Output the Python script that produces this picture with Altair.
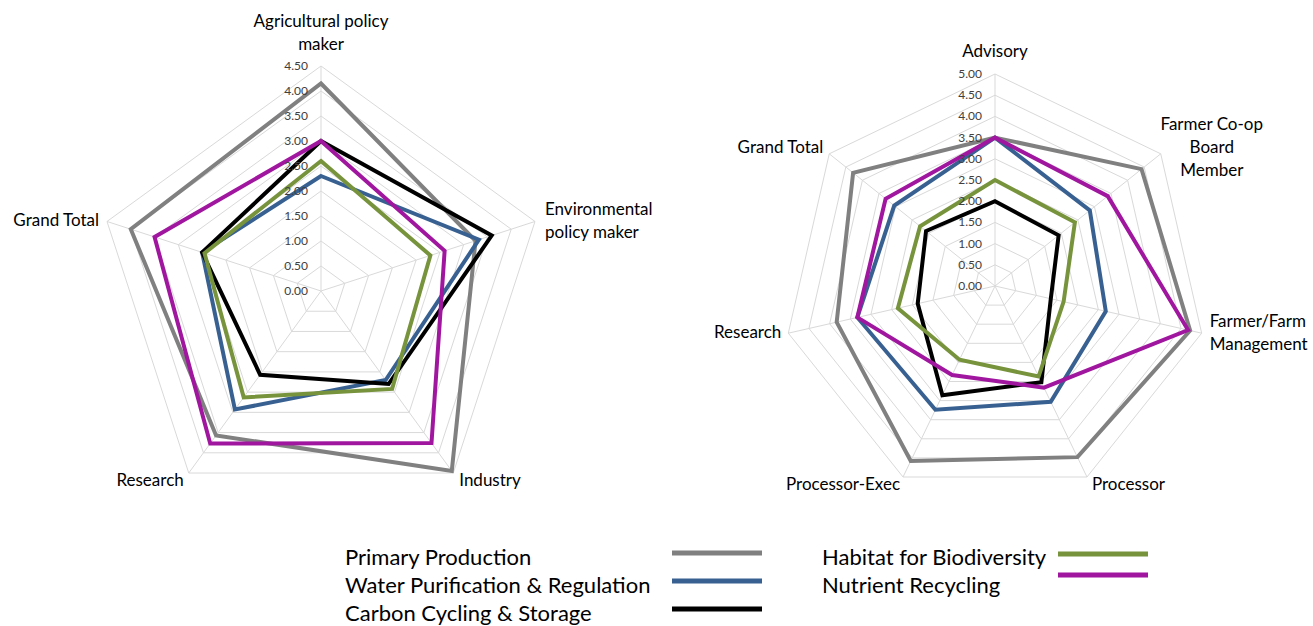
import altair as alt
import pandas as pd

FONT = "Lato"

SERIES = [
    "Primary Production",
    "Water Purification & Regulation",
    "Carbon Cycling & Storage",
    "Habitat for Biodiversity",
    "Nutrient Recycling",
]
COLORS = ["#808080", "#386192", "#000000", "#77933C", "#A0169F"]

# ---- left radar ----
LEFT_AXES = ["Agricultural policy\nmaker", "Environmental\npolicy maker", "Industry", "Research", "Grand Total"]
LEFT_TICKS = [0.0, 0.5, 1.0, 1.5, 2.0, 2.5, 3.0, 3.5, 4.0, 4.5]
LEFT_PRIMARY = [4.15, 3.25, 4.45, 3.57, 4.00]
LEFT_WATER = [2.30, 3.32, 2.20, 2.93, 2.50]
LEFT_CARBON = [3.00, 3.59, 2.30, 2.07, 2.50]
LEFT_HABITAT = [2.60, 2.30, 2.42, 2.63, 2.45]
LEFT_NUTRIENT = [3.00, 2.60, 3.76, 3.77, 3.50]

# ---- right radar ----
RIGHT_AXES = ["Advisory", "Farmer Co-op\nBoard\nMember", "Farmer/Farm\nManagement", "Processor",
              "Processor-Exec", "Research", "Grand Total"]
RIGHT_TICKS = [0.0, 0.5, 1.0, 1.5, 2.0, 2.5, 3.0, 3.5, 4.0, 4.5, 5.0]
RIGHT_PRIMARY = [3.50, 4.42, 4.72, 4.48, 4.58, 3.83, 4.28]
RIGHT_WATER = [3.50, 2.86, 2.68, 3.03, 3.24, 3.33, 3.04]
RIGHT_CARBON = [2.00, 1.92, 1.35, 2.52, 2.86, 1.87, 2.08]
RIGHT_HABITAT = [2.50, 2.41, 1.66, 2.37, 1.93, 2.35, 2.26]
RIGHT_NUTRIENT = [3.50, 3.40, 4.67, 2.66, 2.33, 3.33, 3.30]

# label styles: (align, baseline, dx, dy)
LEFT_LABEL_STYLE = [("center", "bottom", 0, -35), ("left", "middle", 10, -11), ("left", "top", 6, 0),
                    ("right", "top", -5, 0), ("right", "middle", -8, 0)]
RIGHT_LABEL_STYLE = [("center", "bottom", 0, -13), ("center", "middle", 51, -29), ("left", "middle", 8, -11),
                     ("left", "top", 5, 0), ("right", "top", -3, 0), ("right", "middle", -7, 0),
                     ("right", "middle", -6, -6)]


def radar(axes, ticks, series_values, styles, width, height, xdom, ydom):
    n = len(axes)
    rmax = max(ticks)
    xs = alt.Scale(domain=xdom, nice=False, zero=False)
    ys = alt.Scale(domain=ydom, nice=False, zero=False)
    X = alt.X("px:Q", scale=xs, axis=None)
    Y = alt.Y("py:Q", scale=ys, axis=None)

    def pos(ch):
        return ch.transform_calculate(ang=f"datum.idx * 2 * PI / {n}").transform_calculate(
            px="datum.r * sin(datum.ang)", py="datum.r * cos(datum.ang)")

    ring_df = pd.DataFrame([{"ring": t, "idx": i, "r": t} for t in ticks[1:] for i in range(n)])
    rings = pos(alt.Chart(ring_df).mark_line(interpolate="linear-closed", color="#D9D9D9", strokeWidth=1)).encode(
        x=X, y=Y, detail="ring:N", order="idx:Q")

    spoke_df = pd.DataFrame({"idx": list(range(n)), "r": [rmax] * n})
    spokes = pos(alt.Chart(spoke_df).mark_rule(color="#D9D9D9", strokeWidth=1)).transform_calculate(
        cx="0", cy="0").encode(
        x=alt.X("cx:Q", scale=xs, axis=None), y=alt.Y("cy:Q", scale=ys, axis=None), x2="px:Q", y2="py:Q")

    lines = []
    for name, color, vals in zip(SERIES, COLORS, series_values):
        sdf = pd.DataFrame({"series": name, "idx": list(range(n)), "r": vals})
        lines.append(pos(alt.Chart(sdf).mark_line(interpolate="linear-closed", color=color, strokeWidth=4,
                                                  strokeJoin="miter")).encode(x=X, y=Y, order="idx:Q"))

    tick_df = pd.DataFrame({"idx": 0, "r": ticks})
    tick_text = pos(alt.Chart(tick_df).mark_text(align="right", baseline="middle", dx=-13, fontSize=12,
                                                 font=FONT, color="#404040")).encode(
        x=X, y=Y, text=alt.Text("r:Q", format=".2f"))

    label_df = pd.DataFrame({"idx": list(range(n)), "label": axes, "r": rmax})
    labels = []
    for i, (al, bl, dx, dy) in enumerate(styles):
        labels.append(pos(alt.Chart(label_df).transform_filter(f"datum.idx == {i}").mark_text(
            align=al, baseline=bl, dx=dx, dy=dy, fontSize=17, font=FONT, lineBreak="\n", lineHeight=23,
            color="#000000")).encode(x=X, y=Y, text="label:N"))

    return alt.layer(rings, spokes, *lines, tick_text, *labels).properties(width=width, height=height)


left = radar(LEFT_AXES, LEFT_TICKS,
             [LEFT_PRIMARY, LEFT_WATER, LEFT_CARBON, LEFT_HABITAT, LEFT_NUTRIENT],
             LEFT_LABEL_STYLE, 660, 500, [-321 / 50, 339 / 50], [-209 / 50, 291 / 50])
right = radar(RIGHT_AXES, RIGHT_TICKS,
              [RIGHT_PRIMARY, RIGHT_WATER, RIGHT_CARBON, RIGHT_HABITAT, RIGHT_NUTRIENT],
              RIGHT_LABEL_STYLE, 653, 500, [-335 / 42.4, 318 / 42.4], [-214 / 42.4, 286 / 42.4])

# ---- custom legend ----
LEGEND_COL = [0, 0, 0, 1, 1]
LEGEND_ROW = [0, 1, 2, 0, 1]
leg_df = pd.DataFrame({"series": SERIES, "col": LEGEND_COL, "row": LEGEND_ROW})
LX = alt.X("col:Q", scale=alt.Scale(domain=[0, 1], range=[345, 822]), axis=None)
LY = alt.Y("row:Q", scale=alt.Scale(domain=[0, 2], range=[58, 114]), axis=None)
color_scale = alt.Scale(domain=SERIES, range=COLORS)

leg_text = alt.Chart(leg_df).mark_text(align="left", baseline="middle", fontSize=22, font=FONT,
                                       color="#000000").encode(x=LX, y=LY, text="series:N")
leg_left = alt.Chart(leg_df).transform_filter("datum.col == 0").mark_rule(
    strokeWidth=5, xOffset=327, x2Offset=417, yOffset=-5, y2Offset=-5).encode(
    x=LX, x2="col:Q", y=LY, y2="row:Q", color=alt.Color("series:N", scale=color_scale, legend=None))
leg_right0 = alt.Chart(leg_df).transform_filter("datum.col == 1 && datum.row == 0").mark_rule(
    strokeWidth=5, xOffset=236, x2Offset=326, yOffset=-4, y2Offset=-4).encode(
    x=LX, x2="col:Q", y=LY, y2="row:Q", color=alt.Color("series:N", scale=color_scale, legend=None))
leg_right1 = alt.Chart(leg_df).transform_filter("datum.col == 1 && datum.row == 1").mark_rule(
    strokeWidth=5, xOffset=236, x2Offset=326, yOffset=-11, y2Offset=-11).encode(
    x=LX, x2="col:Q", y=LY, y2="row:Q", color=alt.Color("series:N", scale=color_scale, legend=None))
legend = alt.layer(leg_left, leg_right0, leg_right1, leg_text).properties(width=1313, height=126)

chart = alt.vconcat(alt.hconcat(left, right, spacing=0), legend, spacing=0).properties(
    padding=0, background="white").configure_view(stroke=None)

chart.save("out.html", embed_options={"renderer": "svg", "actions": False})
